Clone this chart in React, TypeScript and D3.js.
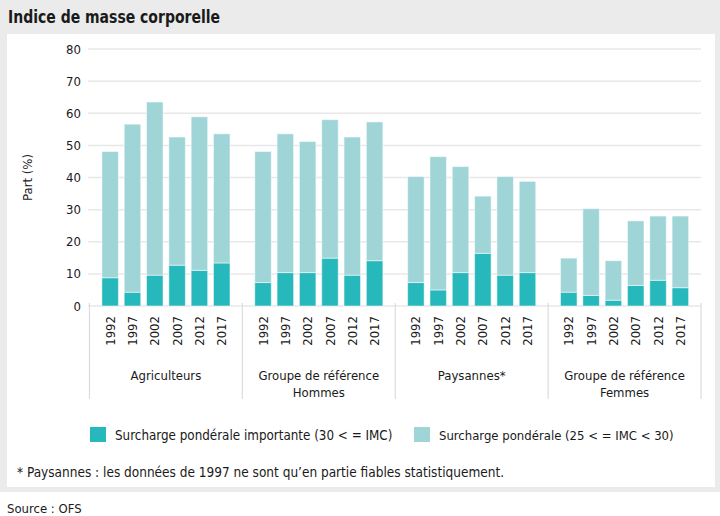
import React from "react";
import * as d3 from "d3";

const groups = ["Agriculteurs", "Groupe de référence|Hommes", "Paysannes*", "Groupe de référence|Femmes"];
const years = ["1992", "1997", "2002", "2007", "2012", "2017"];
// Surcharge pondérale importante (30 <= IMC)
const obese = [
  [8.8, 4.3, 9.6, 12.7, 11.1, 13.4],
  [7.3, 10.4, 10.4, 14.9, 9.6, 14.1],
  [7.3, 5.0, 10.4, 16.4, 9.6, 10.4],
  [4.3, 3.3, 1.8, 6.4, 8.0, 5.7],
];
// Surcharge pondérale (25 <= IMC < 30)
const overweight = [
  [39.3, 52.3, 53.9, 39.9, 47.8, 40.2],
  [40.8, 43.2, 40.8, 43.1, 43.0, 43.2],
  [33.0, 41.5, 33.0, 17.8, 30.7, 28.4],
  [10.6, 27.0, 12.3, 20.1, 20.0, 22.3],
];
const yTicks = [0, 10, 20, 30, 40, 50, 60, 70, 80];
const seriesNames = ["Surcharge pondérale importante (30 < = IMC)", "Surcharge pondérale (25 < = IMC < 30)"];
const colors = ["#27b8bc", "#a0d5d8"];

const FONT = "'Liberation Sans Narrow', 'DejaVu Sans Condensed', 'Roboto', sans-serif";

export default function App() {
  const y = d3.scaleLinear().domain([0, 80]).range([306, 49]);
  const xg = d3.scaleBand().domain(groups).range([89.5, 701]).padding(0);
  const xi = d3.scaleBand().domain(years).range([0, xg.bandwidth()]).paddingInner(0.26).paddingOuter(0.555);
  const textColor = "#1a1a1a";
  return (
    <svg width={720} height={516} style={{ position: "absolute", left: 0, top: 0 }} fontFamily={FONT}>
      <rect x={0} y={0} width={720} height={492} fill="#ebebeb" />
      <rect x={7} y={34} width={708} height={453} fill="#ffffff" />
      <text x={8} y={23} fontSize={18} fontWeight="bold" fill={textColor} textLength={212} lengthAdjust="spacingAndGlyphs">Indice de masse corporelle</text>
      {yTicks.map((t) => (
        <g key={t}>
          <line x1={88} x2={701} y1={y(t)} y2={y(t)} stroke="#e8e8e8" strokeWidth={1.5} />
          <text x={81} y={y(t)} dy="0.35em" textAnchor="end" fontSize={13} fill={textColor}>{t}</text>
        </g>
      ))}
      <text transform={`translate(27,${y(40)}) rotate(-90)`} textAnchor="middle" dy="0.35em" fontSize={13} fill={textColor}>Part (%)</text>
      {[...groups.map((g) => xg(g) as number), 701].map((x, i) => (
        <line key={i} x1={x} x2={x} y1={303} y2={399} stroke="#dcdcdc" strokeWidth={1.2} />
      ))}
      {groups.map((g, gi) => {
        const gx = xg(g) as number;
        const lines = g.split("|");
        return (
          <g key={g}>
            {years.map((yr, yi) => {
              const bx = gx + (xi(yr) as number);
              const o = obese[gi][yi];
              const w = overweight[gi][yi];
              return (
                <g key={yr}>
                  <rect x={bx} width={xi.bandwidth()} y={y(o)} height={y(0) - y(o)} fill={colors[0]} stroke="#ffffff" strokeOpacity={0.5} strokeWidth={1} />
                  <rect x={bx} width={xi.bandwidth()} y={y(o + w)} height={y(o) - y(o + w)} fill={colors[1]} stroke="#ffffff" strokeOpacity={0.5} strokeWidth={1} />
                  <text transform={`translate(${bx + xi.bandwidth() / 2},316) rotate(-90)`} textAnchor="end" dy="0.35em" fontSize={13} fill={textColor}>{yr}</text>
                </g>
              );
            })}
            {lines.map((l, li) => (
              <text key={li} x={gx + xg.bandwidth() / 2} y={380 + li * 17} textAnchor="middle" fontSize={13} fill={textColor}>{l}</text>
            ))}
          </g>
        );
      })}
      <rect x={90} y={427} width={16} height={15} fill={colors[0]} />
      <text x={115} y={435} dy="0.35em" fontSize={13.3} fill={textColor}>{seriesNames[0]}</text>
      <rect x={414} y={427} width={16} height={15} fill={colors[1]} />
      <text x={439} y={435} dy="0.35em" fontSize={13} fill={textColor}>{seriesNames[1]}</text>
      <text x={17} y={472} dy="0.35em" fontSize={13.5} fill={textColor}>* Paysannes : les données de 1997 ne sont qu’en partie fiables statistiquement.</text>
      <text x={7} y={508} dy="0.35em" fontSize={13} fill={textColor}>Source : OFS</text>
    </svg>
  );
}
